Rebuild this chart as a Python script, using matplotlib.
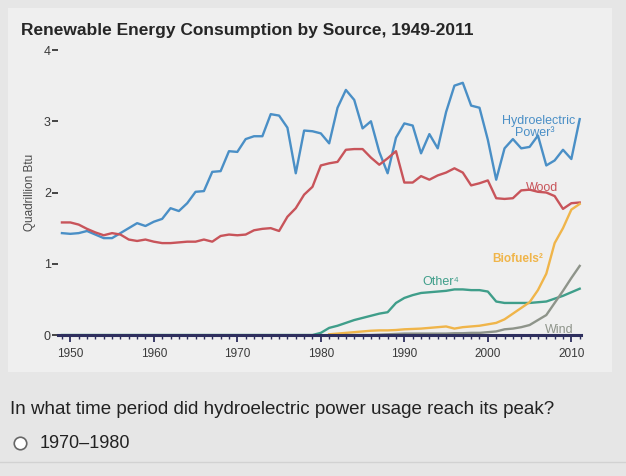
import matplotlib
matplotlib.use("Agg")
import matplotlib.pyplot as plt
from matplotlib.patches import Rectangle
from matplotlib.ticker import MultipleLocator

plt.rcParams['font.family'] = ['Liberation Sans', 'DejaVu Sans']

# ── Data (quadrillion Btu) ───────────────────────────────────────────────────
years = list(range(1949, 2012))

hydro = [1.43, 1.42, 1.43, 1.46, 1.41, 1.36, 1.36, 1.43, 1.50, 1.57,
         1.53, 1.59, 1.63, 1.78, 1.74, 1.85, 2.01, 2.02, 2.29, 2.30,
         2.58, 2.57, 2.75, 2.79, 2.79, 3.10, 3.08, 2.91, 2.27, 2.87,
         2.86, 2.83, 2.69, 3.19, 3.44, 3.30, 2.90, 3.00, 2.57, 2.27,
         2.77, 2.97, 2.94, 2.55, 2.82, 2.62, 3.13, 3.50, 3.54, 3.22,
         3.19, 2.74, 2.18, 2.62, 2.75, 2.62, 2.64, 2.80, 2.38, 2.45,
         2.60, 2.47, 3.03]

wood = [1.58, 1.58, 1.55, 1.49, 1.44, 1.40, 1.43, 1.41, 1.34, 1.32,
        1.34, 1.31, 1.29, 1.29, 1.30, 1.31, 1.31, 1.34, 1.31, 1.39,
        1.41, 1.40, 1.41, 1.47, 1.49, 1.50, 1.46, 1.66, 1.78, 1.97,
        2.08, 2.38, 2.41, 2.43, 2.60, 2.61, 2.61, 2.49, 2.39, 2.48,
        2.58, 2.14, 2.14, 2.23, 2.18, 2.24, 2.28, 2.34, 2.28, 2.10,
        2.13, 2.17, 1.92, 1.91, 1.92, 2.03, 2.04, 2.01, 2.00, 1.95,
        1.77, 1.85, 1.86]

bio_years = list(range(1981, 2012))
biofuels = [0.01, 0.02, 0.03, 0.04, 0.05, 0.06, 0.065, 0.065, 0.07, 0.08,
            0.085, 0.09, 0.10, 0.11, 0.12, 0.09, 0.11, 0.12, 0.13, 0.15,
            0.17, 0.22, 0.30, 0.38, 0.46, 0.63, 0.86, 1.29, 1.50, 1.76,
            1.84]

other = [0.0] * 31 + [
    0.03, 0.10, 0.13, 0.17, 0.21, 0.24, 0.27, 0.30, 0.32, 0.45,
    0.52, 0.56, 0.59, 0.60, 0.61, 0.62, 0.64, 0.64, 0.63, 0.63,
    0.61, 0.47, 0.45, 0.45, 0.45, 0.45, 0.46, 0.47, 0.51, 0.55,
    0.60, 0.65]

wind_years = list(range(1983, 2012))
wind = [0.0, 0.0, 0.0, 0.0, 0.005, 0.01, 0.015, 0.02, 0.02, 0.02,
        0.02, 0.02, 0.02, 0.025, 0.025, 0.03, 0.03, 0.04, 0.05, 0.08,
        0.09, 0.11, 0.14, 0.21, 0.28, 0.45, 0.62, 0.80, 0.97]

C_HYDRO = "#4a8fc6"
C_WOOD = "#c8545a"
C_BIO = "#f0b54a"
C_OTHER = "#3f9e8a"
C_WIND = "#8e948a"
C_AXIS = "#2e2f5e"

W, H = 626, 476

# ── Figure ───────────────────────────────────────────────────────────────────
fig = plt.figure(figsize=(W / 100, H / 100), dpi=100)
fig.patch.set_facecolor("#e6e6e6")

# chart panel behind the axes
fig.add_artist(Rectangle((8 / W, 1 - 372 / H), 604 / W, 364 / H, transform=fig.transFigure,
                         facecolor="#efefef", edgecolor="none", zorder=-5))
fig.add_artist(plt.Line2D([0.0, 1.0], [1 - 462 / H, 1 - 462 / H], transform=fig.transFigure,
                          color="#d2d2d2", linewidth=1, zorder=-4))

ax = fig.add_axes([0.0923, 0.2962, 0.8364, 0.5987])
ax.set_facecolor("none")

lw = 1.7
ax.plot(years, hydro, color=C_HYDRO, linewidth=lw, clip_on=False)
ax.plot(years, wood, color=C_WOOD, linewidth=lw, clip_on=False)
ax.plot(years, other, color=C_OTHER, linewidth=lw, clip_on=False)
ax.plot(bio_years, biofuels, color=C_BIO, linewidth=lw, clip_on=False)
ax.plot(wind_years, wind, color=C_WIND, linewidth=lw, clip_on=False)

ax.set_xlim(1948.5, 2011.2)
ax.set_ylim(0, 4)

for s in ["top", "right", "left"]:
    ax.spines[s].set_visible(False)
ax.spines["bottom"].set_color(C_AXIS)
ax.spines["bottom"].set_linewidth(2.2)
ax.spines["bottom"].set_zorder(5)

ax.set_xticks([1950, 1960, 1970, 1980, 1990, 2000, 2010])
ax.xaxis.set_minor_locator(MultipleLocator(1))
ax.tick_params(axis="x", which="major", direction="out", length=5, width=1.3,
               color=C_AXIS, labelsize=8.5, labelcolor="#3a3a3a", pad=4)
ax.tick_params(axis="x", which="minor", direction="out", length=3, width=1,
               color=C_AXIS)

ax.set_yticks([0, 1, 2, 3, 4])
ax.tick_params(axis="y", direction="out", length=4, width=1.4, color="#444444",
               labelsize=9, labelcolor="#3a3a3a", pad=1)
ax.set_ylabel("Quadrillion Btu", fontsize=8.5, color="#4a4a4a", labelpad=6)

# series labels
ax.text(2006.1, 3.01, "Hydroelectric", color=C_HYDRO, fontsize=9,
        ha="center", va="center")
ax.text(2005.6, 2.83, "Power³", color=C_HYDRO, fontsize=9,
        ha="center", va="center")
ax.text(2006.5, 2.07, "Wood", color=C_WOOD, fontsize=9, ha="center", va="center")
ax.text(2003.6, 1.07, "Biofuels²", color=C_BIO, fontsize=8.5, ha="center",
        va="center", fontweight="bold")
ax.text(1994.4, 0.74, "Other⁴", color=C_OTHER, fontsize=9, ha="center", va="center")
ax.text(2008.6, 0.07, "Wind", color=C_WIND, fontsize=9, ha="center", va="center")

fig.text(21 / W, 1 - 31 / H, "Renewable Energy Consumption by Source, 1949-2011",
         fontsize=12.5, fontweight="bold", color="#262626", ha="left", va="center")

# question below the chart
fig.text(10 / W, 1 - 410 / H,
         "In what time period did hydroelectric power usage reach its peak?",
         fontsize=13.5, color="#222222", ha="left", va="center")
fig.add_artist(plt.Line2D([20 / W], [1 - 443 / H], transform=fig.transFigure,
                          marker="o", markersize=9, markerfacecolor="white",
                          markeredgecolor="#666666", markeredgewidth=1.2, linestyle="none"))
fig.text(40 / W, 1 - 443 / H, "1970–1980", fontsize=13, color="#222222",
         ha="left", va="center")

fig.savefig("out.png", dpi=100, facecolor=fig.get_facecolor())
